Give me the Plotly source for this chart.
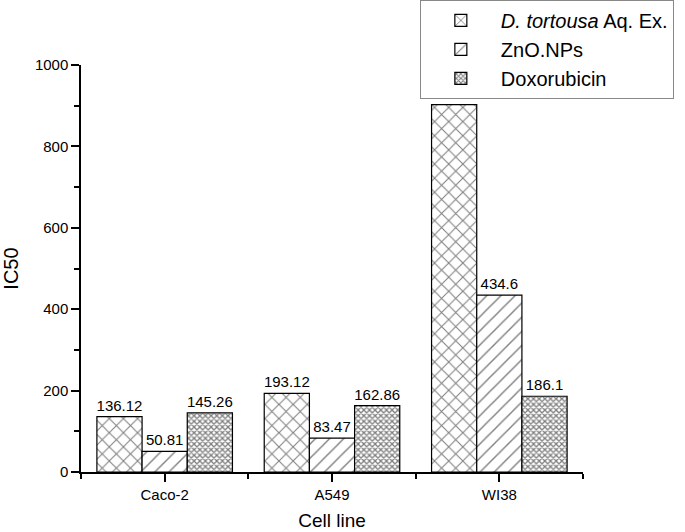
import plotly.graph_objects as go

cell_lines = ["Caco-2", "A549", "WI38"]
tortousa = [136.12, 193.12, 902.83]
zno_nps = [50.81, 83.47, 434.6]
doxorubicin = [145.26, 162.86, 186.1]

series = [
    ("<i>D. tortousa</i> Aq. Ex.", tortousa, dict(shape="x", size=10, solidity=0.2)),
    ("ZnO.NPs", zno_nps, dict(shape="/", size=10, solidity=0.14)),
    ("Doxorubicin", doxorubicin, dict(shape="x", size=4, solidity=0.55)),
]

FONT = "Liberation Sans, Arial, sans-serif"
xpos = list(range(len(cell_lines)))

fig = go.Figure()
for name, vals, pat in series:
    fig.add_trace(go.Bar(
        x=xpos, y=vals, name=name,
        text=[f"{v:g}" for v in vals],
        textposition="outside",
        constraintext="none",
        textfont=dict(size=15, color="black", family=FONT),
        cliponaxis=False,
        marker=dict(
            color="white",
            line=dict(color="black", width=1.2),
            pattern=dict(fgcolor="black", bgcolor="white", fillmode="overlay", **pat),
        ),
    ))

fig.update_layout(
    width=685, height=532,
    margin=dict(l=81, r=102, t=65, b=60, autoexpand=False),
    paper_bgcolor="white", plot_bgcolor="white",
    font=dict(family=FONT, color="black"),
    barmode="group", bargap=0.19, bargroupgap=0,
    showlegend=True,
    legend=dict(
        x=0.675, y=1.16, xanchor="left", yanchor="top",
        bordercolor="#888888", borderwidth=1, bgcolor="white",
        font=dict(size=20, family=FONT), tracegroupgap=0,
        itemwidth=70,
    ),
)

fig.update_xaxes(
    range=[-0.5, 2.5], tickvals=xpos, ticktext=cell_lines,
    showline=True, linecolor="black", linewidth=1.5,
    ticks="outside", ticklen=8, tickwidth=1.5, tickcolor="black",
    tickfont=dict(size=15), showgrid=False, zeroline=False,
    minor=dict(tickmode="array", tickvals=[-0.5, 0.5, 1.5, 2.5],
               ticks="outside", ticklen=5, tickwidth=1.5, tickcolor="black"),
    title=dict(text="Cell line", font=dict(size=19), standoff=12),
)
fig.update_yaxes(
    range=[0, 1000], dtick=200,
    showline=True, linecolor="black", linewidth=1.5,
    ticks="outside", ticklen=8, tickwidth=1.5, tickcolor="black",
    tickfont=dict(size=15), showgrid=False, zeroline=False,
    minor=dict(dtick=100, ticks="outside", ticklen=5, tickwidth=1.5, tickcolor="black"),
    title=dict(text="IC50", font=dict(size=20), standoff=12),
)

# page body has a default 8px margin; drop it so the figure sits at the corner
fig.write_html("out.html", config={"displayModeBar": False},
               post_script="document.body.style.margin='0';")
